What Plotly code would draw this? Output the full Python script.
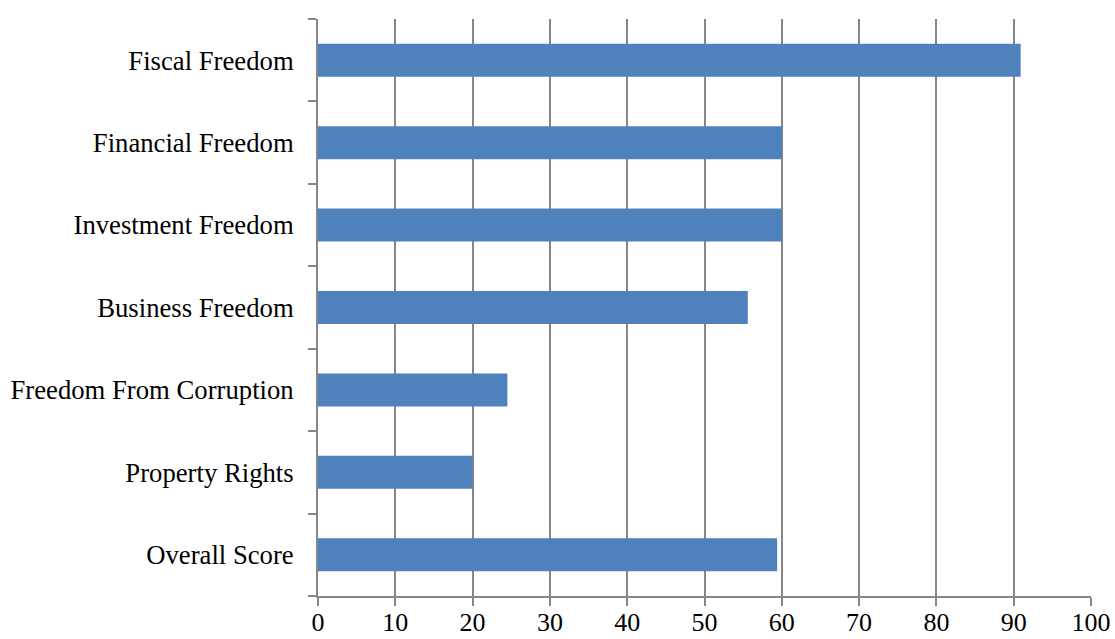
import plotly.graph_objects as go

categories = [
    "Overall Score",
    "Property Rights",
    "Freedom From Corruption",
    "Business Freedom",
    "Investment Freedom",
    "Financial Freedom",
    "Fiscal Freedom",
]
scores = [59.4, 20.0, 24.5, 55.6, 60.0, 60.0, 90.9]

fig = go.Figure(
    go.Bar(
        x=scores,
        y=categories,
        orientation="h",
        marker=dict(color="#4F81BD", line=dict(width=0)),
    )
)

axis_gray = "#868686"
label_size = 26.7
fig.update_layout(
    template="none",
    width=1115,
    height=639,
    margin=dict(l=318, r=24, t=19, b=43, pad=0),
    paper_bgcolor="white",
    plot_bgcolor="white",
    bargap=0.6,
    showlegend=False,
    font=dict(family="Liberation Serif, Times New Roman, serif", size=label_size, color="black"),
    xaxis=dict(
        range=[0, 100],
        dtick=10,
        automargin=False,
        showgrid=True,
        gridcolor=axis_gray,
        gridwidth=2,
        zeroline=False,
        showline=True,
        linecolor=axis_gray,
        linewidth=2,
        ticks="outside",
        ticklen=8,
        tickwidth=2,
        tickcolor=axis_gray,
        tickfont=dict(size=26),
        ticklabelstandoff=-6,
        fixedrange=True,
    ),
    yaxis=dict(
        automargin=False,
        showgrid=False,
        zeroline=False,
        showline=True,
        linecolor=axis_gray,
        linewidth=2,
        ticks="outside",
        tickson="boundaries",
        ticklen=8,
        tickwidth=2,
        tickcolor=axis_gray,
        tickfont=dict(size=label_size),
        ticklabelstandoff=17,
        fixedrange=True,
    ),
)

fig.write_html("out.html", config={"displayModeBar": False})
